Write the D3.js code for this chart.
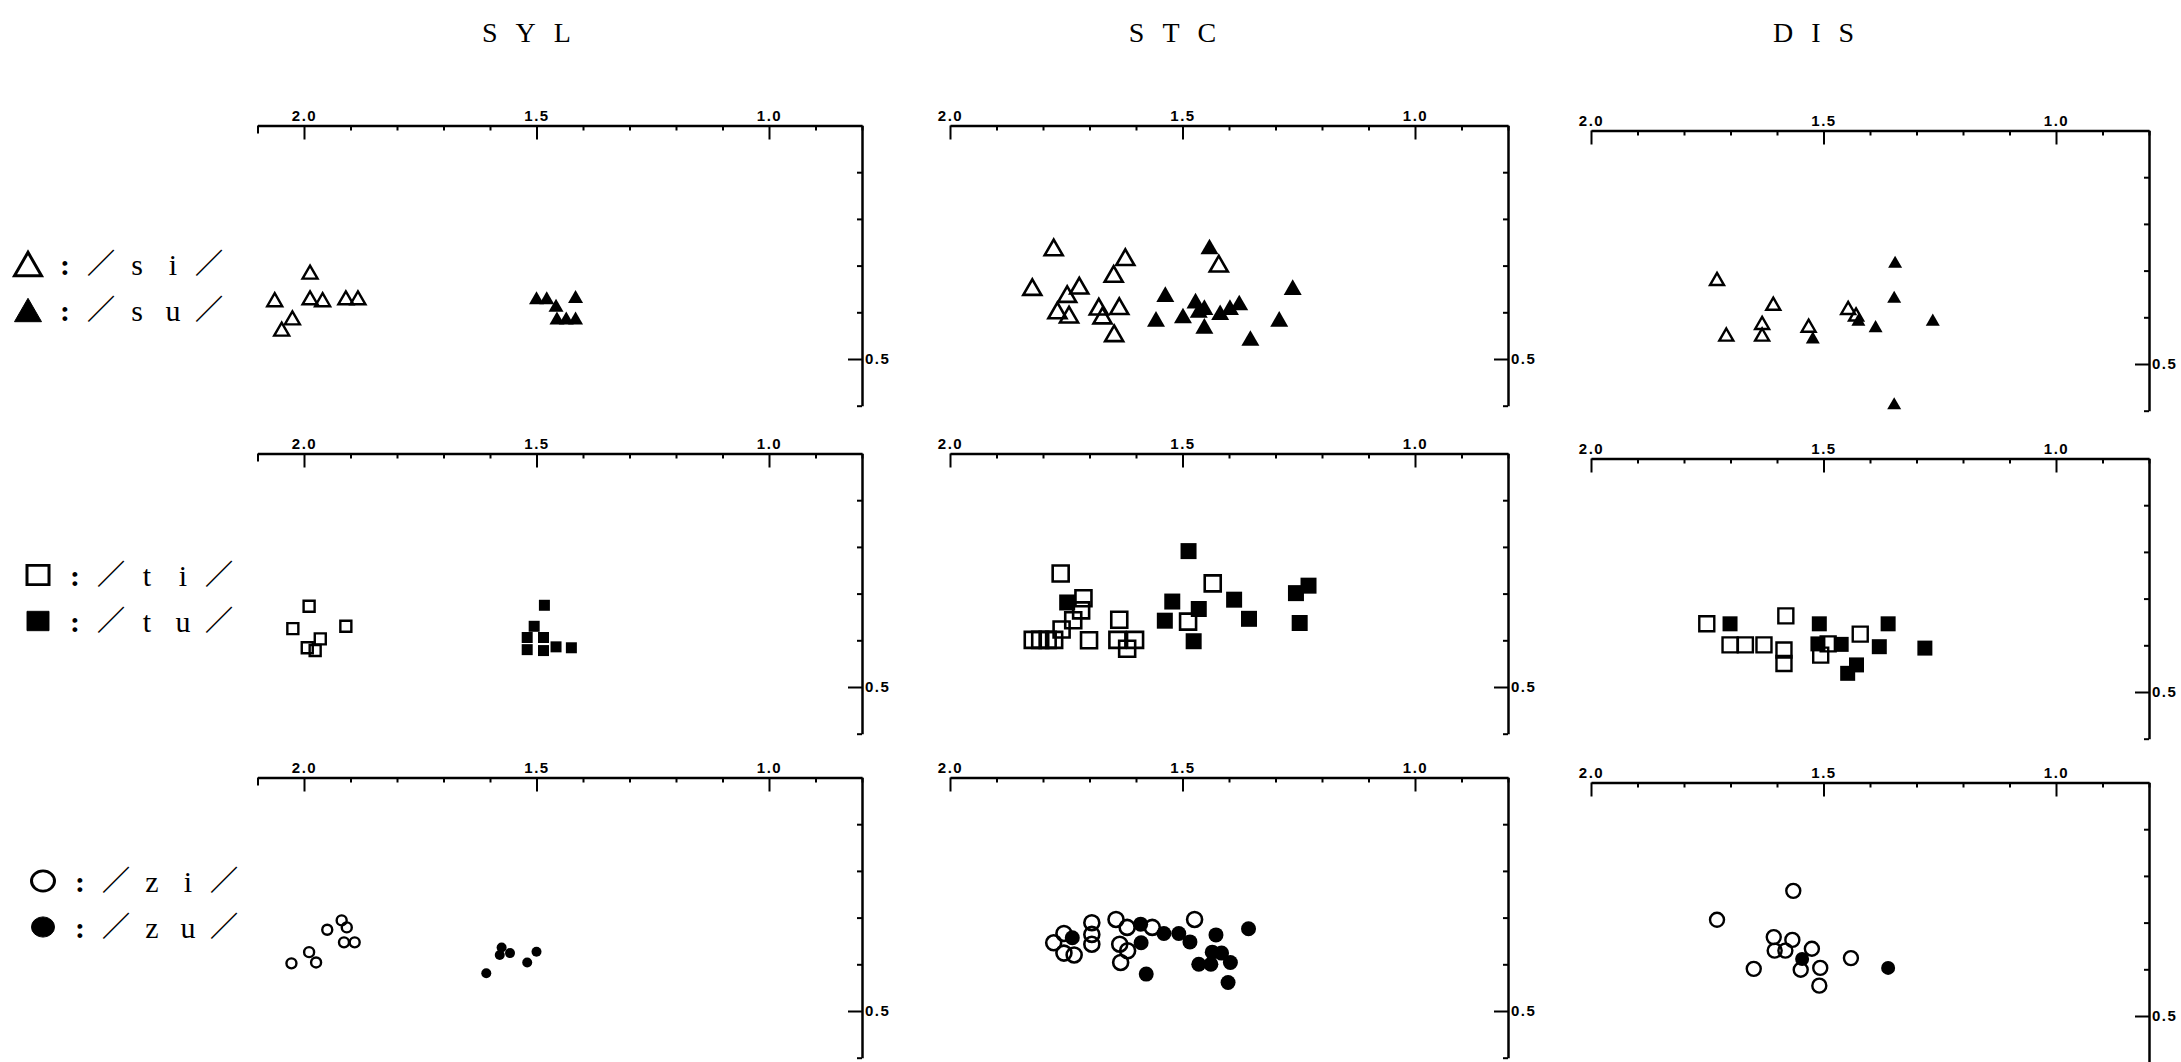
<!DOCTYPE html>
<html>
<head>
<meta charset="utf-8">
<script src="https://cdn.jsdelivr.net/npm/d3@7"></script>
<style>
  body { margin: 0; background: #fff; }
  svg { display: block; }
  .axis text { font-family: "Liberation Sans", Arial, sans-serif; font-weight: bold; font-size: 15px; fill: #000; letter-spacing: 1.5px; }
  .axis path, .axis line { stroke: #000; }
</style>
</head>
<body>
<svg id="fig" width="2181" height="1062"></svg>
<script>
// columns and rows of the figure
var columns = ["SYL", "STC", "DIS"];
var xTickValues = [2.1, 2.0, 1.9, 1.8, 1.7, 1.6, 1.5, 1.4, 1.3, 1.2, 1.1, 1.0, 0.9, 0.8];
var xLabelled = [2.0, 1.5, 1.0];
var yTickValues = [0.4, 0.5, 0.6, 0.7, 0.8, 0.9, 1.0];
var yLabelled = [0.5];

// /si/ (open) and /su/ (filled) — triangles
var sylSi = [[2.063,0.627],[1.987,0.686],[1.987,0.631],[1.960,0.627],[1.910,0.631],[1.884,0.631],[2.025,0.588],[2.048,0.564]];
var sylSu = [[1.500,0.631],[1.478,0.631],[1.458,0.615],[1.416,0.634],[1.456,0.588],[1.436,0.588],[1.416,0.588]];
var stcSi = [[1.777,0.739],[1.823,0.654],[1.748,0.639],[1.722,0.657],[1.769,0.604],[1.744,0.595],[1.680,0.612],[1.672,0.593],[1.636,0.613],[1.648,0.682],[1.623,0.718],[1.647,0.555],[1.422,0.704]];
var stcSu = [[1.442,0.741],[1.537,0.639],[1.557,0.586],[1.499,0.593],[1.472,0.625],[1.453,0.611],[1.465,0.605],[1.453,0.571],[1.419,0.600],[1.398,0.611],[1.378,0.621],[1.354,0.545],[1.292,0.586],[1.263,0.654]];
var disSi = [[1.729,0.682],[1.608,0.629],[1.632,0.588],[1.709,0.563],[1.632,0.563],[1.532,0.582],[1.447,0.620],[1.430,0.606]];
var disSu = [[1.346,0.719],[1.348,0.644],[1.425,0.595],[1.388,0.581],[1.523,0.557],[1.265,0.595],[1.348,0.416]];

// /ti/ (open) and /tu/ (filled) — squares
var sylTi = [[1.989,0.673],[2.024,0.625],[1.910,0.630],[1.965,0.603],[1.993,0.584],[1.976,0.578]];
var sylTu = [[1.483,0.675],[1.505,0.630],[1.520,0.606],[1.485,0.606],[1.520,0.580],[1.485,0.578],[1.458,0.586],[1.425,0.584]];
var stcTi = [[1.762,0.743],[1.713,0.690],[1.718,0.664],[1.735,0.643],[1.760,0.623],[1.822,0.601],[1.806,0.601],[1.790,0.601],[1.776,0.601],[1.701,0.600],[1.636,0.644],[1.640,0.601],[1.602,0.601],[1.619,0.582],[1.435,0.722],[1.488,0.640]];
var stcTu = [[1.487,0.791],[1.748,0.681],[1.522,0.683],[1.465,0.667],[1.538,0.642],[1.476,0.598],[1.389,0.687],[1.357,0.646],[1.256,0.701],[1.229,0.717],[1.248,0.637]];
var disTi = [[1.751,0.646],[1.701,0.601],[1.668,0.601],[1.628,0.601],[1.581,0.663],[1.585,0.590],[1.585,0.561],[1.506,0.579],[1.490,0.603],[1.421,0.624]];
var disTu = [[1.701,0.646],[1.509,0.646],[1.512,0.603],[1.462,0.602],[1.429,0.558],[1.448,0.540],[1.380,0.597],[1.361,0.646],[1.282,0.594]];

// /zi/ (open) and /zu/ (filled) — circles
var sylZi = [[2.027,0.602],[1.989,0.626],[1.974,0.604],[1.950,0.674],[1.919,0.694],[1.908,0.679],[1.914,0.647],[1.891,0.647]];
var sylZu = [[1.608,0.581],[1.575,0.636],[1.579,0.620],[1.557,0.624],[1.520,0.604],[1.500,0.627]];
var stcZi = [[1.755,0.666],[1.777,0.646],[1.755,0.624],[1.733,0.620],[1.695,0.689],[1.695,0.664],[1.695,0.643],[1.643,0.696],[1.619,0.679],[1.565,0.679],[1.635,0.643],[1.618,0.629],[1.633,0.604],[1.474,0.696]];
var stcZu = [[1.737,0.657],[1.590,0.686],[1.589,0.646],[1.540,0.666],[1.508,0.666],[1.484,0.648],[1.578,0.579],[1.428,0.663],[1.436,0.626],[1.416,0.624],[1.465,0.600],[1.439,0.600],[1.397,0.604],[1.402,0.561],[1.358,0.676]];
var disZi = [[1.565,0.768],[1.729,0.706],[1.607,0.669],[1.567,0.663],[1.605,0.640],[1.582,0.640],[1.525,0.644],[1.650,0.601],[1.549,0.599],[1.507,0.603],[1.509,0.565],[1.441,0.624]];
var disZu = [[1.546,0.622],[1.361,0.603]];

// legend labels
var legendLabels = [["si", "su"], ["ti", "tu"], ["zi", "zu"]];
var shapes = ["tri", "sq", "circ"];

var panels = [
  {col: 0, row: 0, open: sylSi, filled: sylSu}, {col: 1, row: 0, open: stcSi, filled: stcSu}, {col: 2, row: 0, open: disSi, filled: disSu},
  {col: 0, row: 1, open: sylTi, filled: sylTu}, {col: 1, row: 1, open: stcTi, filled: stcTu}, {col: 2, row: 1, open: disTi, filled: disTu},
  {col: 0, row: 2, open: sylZi, filled: sylZu}, {col: 1, row: 2, open: stcZi, filled: stcZu}, {col: 2, row: 2, open: disZi, filled: disZu}
];

// layout
var svg = d3.select("#fig"),
    unitX = 465, unitY = 467,
    colX1 = [769, 1415, 2056],      // pixel of x = 1.0 in each column
    colDy = [0, 0, 5],
    rowY05 = [359, 687, 1011],      // pixel of y = 0.5 in each row
    xStart = [2.1, 2.0, 2.0];

// marker width per column and shape
var markerW = [
  {tri: 15, sq: 11, circ: 10},
  {tri: 18, sq: 16, circ: 15},
  {tri: 14, sq: 15, circ: 14}
];

function symbolFor(shape, w) {
  if (shape === "tri") return d3.symbol(d3.symbolTriangle, Math.sqrt(3) / 4 * w * w)();
  if (shape === "sq") return d3.symbol(d3.symbolSquare, w * w)();
  return d3.symbol(d3.symbolCircle, Math.PI * w * w / 4)();
}
// shift triangles so the box centre sits on the point
function shiftFor(shape, w) { return shape === "tri" ? w / (4 * Math.sqrt(3)) : 0; }

var near = function(v, list) { return list.some(function(a) { return Math.abs(a - v) < 1e-6; }); };

panels.forEach(function(p) {
  var x0 = xStart[p.col],
      y05 = rowY05[p.row] + colDy[p.col];

  var x = d3.scaleLinear()
      .domain([x0, 0.8])
      .range([colX1[p.col] - (x0 - 1) * unitX, colX1[p.col] + 0.2 * unitX]);
  var y = d3.scaleLinear()
      .domain([0.4, 1.0])
      .range([y05 + 0.1 * unitY, y05 - 0.5 * unitY]);

  var g = svg.append("g");

  // top axis
  var top = g.append("g")
      .attr("class", "axis")
      .attr("transform", "translate(0," + y(1.0) + ")")
      .call(d3.axisTop(x)
        .tickValues(xTickValues.filter(function(v) { return v <= x0 + 1e-6; }))
        .tickSizeInner(-5).tickSizeOuter(0).tickPadding(5)
        .tickFormat(function(v) { return near(v, xLabelled) ? d3.format(".1f")(v) : ""; }));
  top.select(".domain").attr("stroke-width", 2.5);
  top.selectAll(".tick line")
      .attr("stroke-width", 2)
      .attr("y2", function(v) { return near(v, xLabelled) ? 14 : (Math.abs(v - x0) < 1e-6 ? 8 : 5); });

  // right axis
  var right = g.append("g")
      .attr("class", "axis")
      .attr("transform", "translate(" + x(0.8) + ",0)")
      .call(d3.axisRight(y)
        .tickValues(yTickValues)
        .tickSizeInner(-5).tickSizeOuter(0).tickPadding(3)
        .tickFormat(function(v) { return near(v, yLabelled) ? d3.format(".1f")(v) : ""; }));
  right.select(".domain").attr("stroke-width", 2.5);
  right.selectAll(".tick line")
      .attr("stroke-width", 2)
      .attr("x2", function(v) { return near(v, yLabelled) ? -14 : -5; });
  right.selectAll(".tick text").attr("text-anchor", "start");

  // column titles above the top row
  if (p.row === 0) {
    svg.append("text")
        .attr("x", x(1.5) - 1)
        .attr("y", 42)
        .attr("text-anchor", "middle")
        .style("font-family", "'Liberation Serif', 'DejaVu Serif', serif")
        .style("font-size", "28px")
        .style("letter-spacing", "18px")
        .text(columns[p.col]);
  }

  var shape = shapes[p.row],
      w = markerW[p.col][shape],
      path = symbolFor(shape, w),
      dy = shiftFor(shape, w);

  g.selectAll(".open")
      .data(p.open)
    .enter().append("path")
      .attr("class", "open")
      .attr("d", path)
      .attr("transform", function(d) { return "translate(" + x(d[0]) + "," + (y(d[1]) + dy) + ")"; })
      .attr("fill", "none")
      .attr("stroke", "#000")
      .attr("stroke-width", p.col === 1 ? 2.6 : 2.4);

  g.selectAll(".filled")
      .data(p.filled)
    .enter().append("path")
      .attr("class", "filled")
      .attr("d", path)
      .attr("transform", function(d) { return "translate(" + x(d[0]) + "," + (y(d[1]) + dy) + ")"; })
      .attr("fill", "#000");
});

// legend
var legendTop = [264, 575, 881],
    legendCx = [28, 38, 43],
    legendW = {tri: 27, sq: 22, circ: 23},
    legendGap = 46;

legendLabels.forEach(function(pair, r) {
  var shape = shapes[r];
  pair.forEach(function(lab, k) {
    var cy = legendTop[r] + k * legendGap,
        cx = legendCx[r],
        lg = svg.append("g").attr("transform", "translate(" + cx + "," + cy + ")");

    lg.append("path")
        .attr("d", symbolFor(shape, legendW[shape]))
        .attr("transform", "translate(0," + shiftFor(shape, legendW[shape]) + ")" + (shape === "tri" ? "" : " scale(1,0.88)"))
        .attr("fill", k === 0 ? "none" : "#000")
        .attr("stroke", "#000")
        .attr("stroke-width", k === 0 ? 3 : 1);

    var chars = [":", "\uFF0F", lab[0], lab[1], "\uFF0F"];
    lg.selectAll("text")
        .data(chars)
      .enter().append("text")
        .attr("x", function(d, i) { return 37 + i * 36; })
        .attr("y", function(d) { return d === "\uFF0F" ? 10 : 11; })
        .attr("text-anchor", "middle")
        .style("font-family", function(d) { return d === "\uFF0F" ? "'Noto Sans CJK JP', sans-serif" : "'Liberation Serif', serif"; })
        .style("font-weight", function(d) { return d === "\uFF0F" || d === ":" ? "bold" : "normal"; })
        .style("font-size", function(d) { return d === "\uFF0F" ? "28px" : "30px"; })
        .text(function(d) { return d; });
  });
});
</script>
</body>
</html>
